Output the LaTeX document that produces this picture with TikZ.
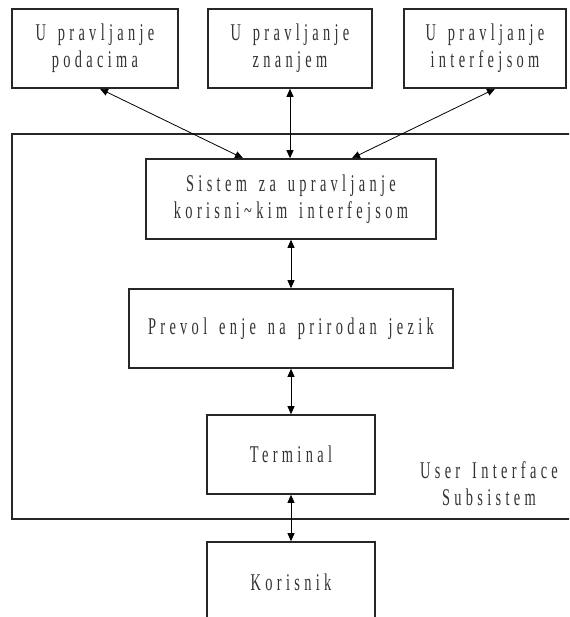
\documentclass[tikz,border=0pt]{standalone}
\usepackage{fontspec}
\usetikzlibrary{arrows.meta}
\newfontfamily\lblfont[FakeStretch=0.6,LetterSpace=18,WordSpace=1.5]{Liberation Serif}
\tikzset{
  box/.style={draw=black!85, line width=1.6pt, inner sep=0pt, align=center,
              font=\lblfont\fontsize{24}{27}\selectfont, text=black!80},
  link/.style={draw=black, line width=0.8pt, {Triangle[length=8pt,width=7pt]}-{Triangle[length=8pt,width=7pt]}},
  frame/.style={draw=black!85, line width=1.6pt},
  caption/.style={align=center, font=\lblfont\fontsize{24}{27}\selectfont, text=black!80}
}
\begin{document}
\begin{tikzpicture}[x=1pt,y=-1pt]
  \clip (0,0) rectangle (569,617);
  \fill[white] (0,0) rectangle (569,617);

  % top row of management modules
  \node[box, minimum width=166pt, minimum height=79pt] (data) at (95,48.5) {U pravljanje\\podacima};
  \node[box, minimum width=164pt, minimum height=79pt] (know) at (290,48.5) {U pravljanje\\znanjem};
  \node[box, minimum width=162pt, minimum height=79pt] (intf) at (485,48.5) {U pravljanje\\interfejsom};

  % user interface subsystem container
  \node[frame, minimum width=570pt, minimum height=385pt, inner sep=0pt] (subsys) at (297,326.5) {};
  \node[caption] (subcap) at (489,484) {User Interface\\Subsistem};

  % inner chain
  \node[box, minimum width=290pt, minimum height=80pt] (uims) at (291,199) {Sistem za upravljanje\\korisni\textasciitilde kim interfejsom};
  \node[box, minimum width=324pt, minimum height=79pt] (nlp) at (291,328.5) {Prevol enje na prirodan jezik};
  \node[box, minimum width=168pt, minimum height=79pt] (term) at (291,454.5) {Terminal};
  \node[box, minimum width=168pt, minimum height=80pt] (user) at (291,582) {Korisnik};

  % connectors
  \draw[link] ([xshift=5pt]data.south) -- ([xshift=-48pt]uims.north);
  \draw[link] (know.south) -- (know.south |- uims.north);
  \draw[link] ([xshift=10pt]intf.south) -- ([xshift=61pt]uims.north);
  \draw[link] (uims.south) -- (nlp.north);
  \draw[link] (nlp.south) -- (term.north);
  \draw[link] (term.south) -- (user.north);
\end{tikzpicture}
\end{document}
